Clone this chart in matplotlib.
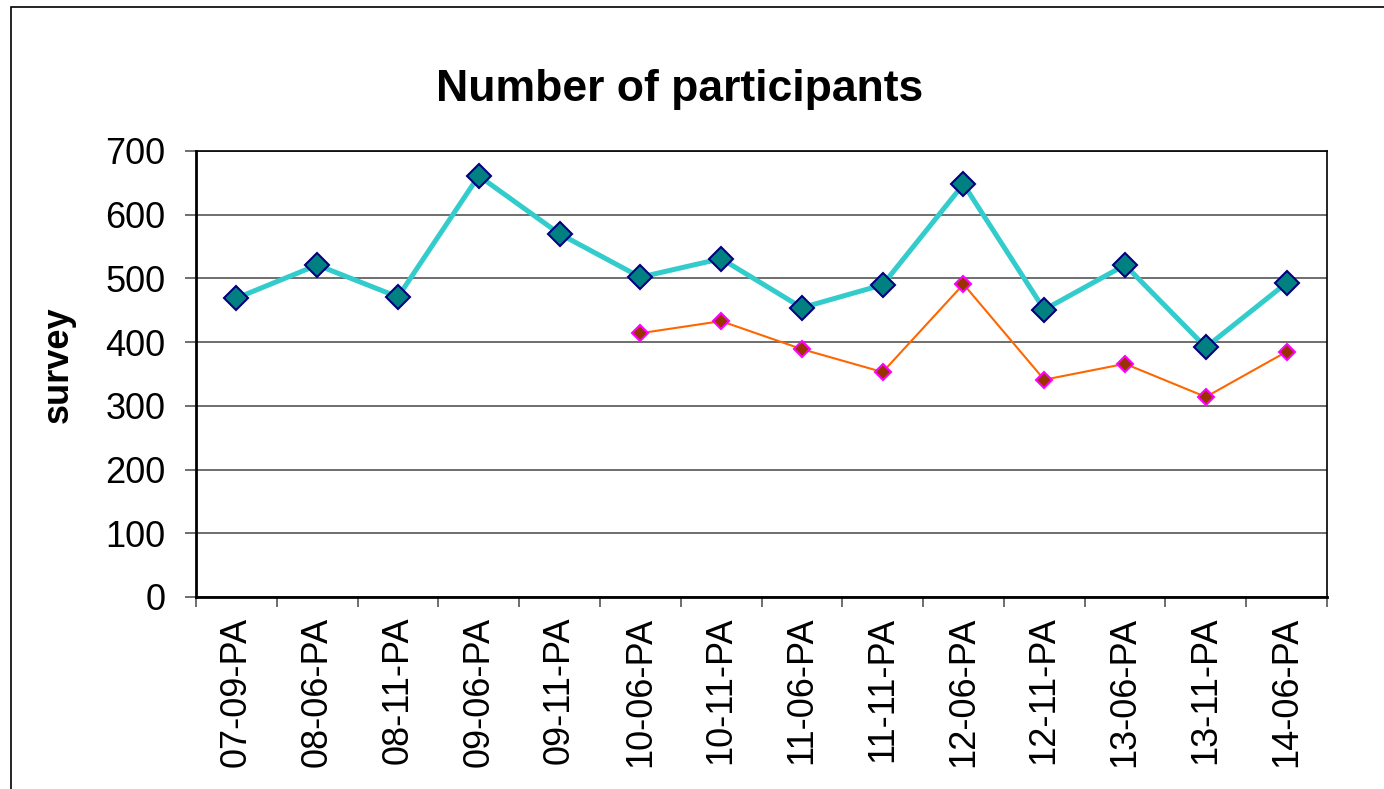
import matplotlib
matplotlib.use("Agg")
import matplotlib.pyplot as plt
import numpy as np
from matplotlib.patches import Rectangle

plt.rcParams['font.family'] = ['Liberation Sans', 'DejaVu Sans']

sessions = ["07-09-PA", "08-06-PA", "08-11-PA", "09-06-PA", "09-11-PA",
            "10-06-PA", "10-11-PA", "11-06-PA", "11-11-PA", "12-06-PA",
            "12-11-PA", "13-06-PA", "13-11-PA", "14-06-PA"]
participants = [469, 521, 471, 661, 570, 502, 531, 454, 490, 648, 451, 521, 392, 493]
second_series = [np.nan] * 5 + [414, 433, 389, 353, 491, 341, 366, 314, 385]

fig = plt.figure(figsize=(13.84, 7.89), dpi=100)
ax = fig.add_axes([196 / 1384, 1 - 597 / 789, (1327 - 196) / 1384, (597 - 151) / 789])

# outer chart border (only top/left visible in the original)
fig.patches.append(Rectangle((11 / 1384, -0.1), 1.2, (789 - 7) / 789 + 0.1,
                             transform=fig.transFigure, fill=False,
                             edgecolor='black', linewidth=1.2))

x = np.arange(len(sessions))
ax.plot(x, participants, color='#33CCCC', linewidth=3.6, marker='D',
        markersize=12.5, markerfacecolor='#008080', markeredgecolor='#000080',
        markeredgewidth=1.5, zorder=3)
ax.plot(x, second_series, color='#FF6600', linewidth=1.5, marker='D',
        markersize=8, markerfacecolor='#993300', markeredgecolor='#FF00FF',
        markeredgewidth=1.5, zorder=3)

ax.set_xlim(-0.5, len(sessions) - 0.5)
ax.set_ylim(0, 700)
ax.set_yticks(range(0, 701, 100))
ax.yaxis.grid(True, color='#555555', linewidth=1.2)
ax.set_axisbelow(True)

ax.set_xticks(x)
ax.set_xticklabels(sessions, rotation=90, fontsize=26)
ax.set_xticks(np.arange(-0.5, len(sessions)), minor=True)
ax.tick_params(axis='x', which='major', length=0, pad=14)
ax.tick_params(axis='x', which='minor', length=7, width=1.2, color='#555555')
ax.tick_params(axis='y', length=8, width=1.2, color='#555555', pad=14, labelsize=26)

for side in ['left', 'bottom']:
    ax.spines[side].set_linewidth(2)
for side in ['top', 'right']:
    ax.spines[side].set_linewidth(1.2)

ax.set_ylabel('survey', fontsize=26, fontweight='bold')
ax.yaxis.set_label_coords(-120 / 1131, 0.52)
fig.text((438 + 921) / 2 / 1384, 1 - 90 / 789, 'Number of participants',
         ha='center', va='center', fontsize=32, fontweight='bold')

fig.savefig('out.png', dpi=100)
